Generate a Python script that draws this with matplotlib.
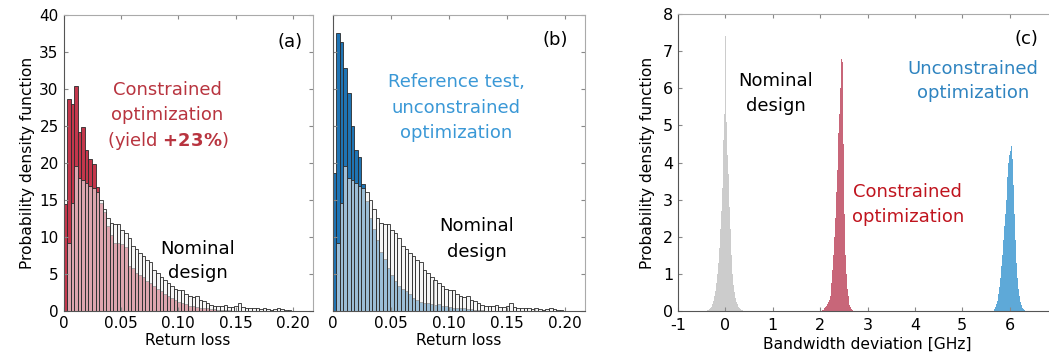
import numpy as np
import matplotlib
matplotlib.use("Agg")
import matplotlib.pyplot as plt

plt.rcParams["axes.unicode_minus"] = False

# return-loss histograms (bin width 0.0031, 70 bins)
rl_edges = np.round(np.arange(71) * 0.0031, 5)
nominal_rl = [0.0, 9.2, 14.6, 19.6, 17.9, 17.7, 17.3, 16.9, 16.6, 16.1,
              15.0, 13.7, 12.5, 11.9, 11.7, 11.7, 10.9, 10.5, 9.9, 8.7,
              8.4, 7.8, 7.4, 6.9, 6.6, 5.5, 5.1, 4.6, 4.2, 3.7,
              3.4, 2.9, 2.8, 2.8, 2.2, 2.0, 1.9, 2.0, 1.5, 1.3,
              1.0, 0.8, 0.7, 0.7, 0.6, 0.8, 0.5, 0.5, 0.6, 1.0,
              0.5, 0.4, 0.3, 0.3, 0.4, 0.2, 0.3, 0.2, 0.1, 0.2,
              0.3, 0.2, 0.1, 0.05, 0.0, 0.0, 0.0, 0.0, 0.0, 0.0]
constrained_rl = [14.5, 28.7, 27.9, 30.4, 24.2, 24.9, 21.8, 20.5, 19.9, 16.8,
                  14.6, 13.4, 11.4, 10.2, 9.2, 9.1, 9.0, 8.6, 6.0, 5.8,
                  5.1, 4.8, 4.5, 4.0, 3.7, 3.3, 3.0, 2.6, 2.3, 2.0,
                  1.7, 1.4, 1.2, 1.1, 0.9, 0.7, 0.6, 0.5, 0.4, 0.3,
                  0.3, 0.2, 0.2, 0.1, 0.1, 0.05, 0.05, 0.0, 0.0, 0.0,
                  0.0, 0.0, 0.0, 0.0, 0.0, 0.0, 0.0, 0.0, 0.0, 0.0,
                  0.0, 0.0, 0.0, 0.0, 0.0, 0.0, 0.0, 0.0, 0.0, 0.0]
unconstrained_rl = [18.6, 37.5, 36.4, 32.8, 29.5, 25.0, 21.8, 20.8, 17.2, 14.8,
                    12.5, 11.0, 9.6, 8.0, 7.0, 5.8, 4.8, 4.0, 3.3, 2.9,
                    2.6, 2.2, 1.7, 1.4, 1.2, 1.0, 1.0, 0.9, 0.8, 0.9,
                    0.7, 0.6, 0.5, 0.4, 0.4, 0.3, 0.3, 0.2, 0.2, 0.1,
                    0.1, 0.1, 0.0, 0.0, 0.0, 0.0, 0.0, 0.0, 0.0, 0.0,
                    0.0, 0.0, 0.0, 0.0, 0.0, 0.0, 0.0, 0.0, 0.0, 0.0,
                    0.0, 0.0, 0.0, 0.0, 0.0, 0.0, 0.0, 0.0, 0.0, 0.0]

# bandwidth deviation histograms (bin width 0.02 GHz)
nom_bw_edges = np.round(-0.40 + np.arange(41) * 0.02, 3)
nominal_bw = [0.01, 0.02, 0.03, 0.05, 0.08, 0.12, 0.18, 0.28, 0.40, 0.55,
              0.75, 1.0, 1.3, 1.7, 2.2, 2.7, 3.3, 4.0, 4.6, 5.3,
              7.4, 5.1, 4.2, 3.7, 2.8, 2.2, 1.5, 1.0, 0.7, 0.5,
              0.35, 0.25, 0.18, 0.12, 0.08, 0.06, 0.04, 0.03, 0.02, 0.01]
con_bw_edges = np.round(2.04 + np.arange(35) * 0.02, 3)
constrained_bw = [0.02, 0.04, 0.07, 0.10, 0.14, 0.18, 0.25, 0.30, 0.40, 0.55,
                  0.75, 1.1, 1.5, 2.0, 2.5, 3.2, 3.8, 4.8, 5.3, 6.0,
                  6.8, 6.7, 4.5, 2.6, 1.5, 1.0, 0.6, 0.4, 0.25, 0.15,
                  0.10, 0.06, 0.03, 0.01]
unc_bw_edges = np.round(5.66 + np.arange(35) * 0.02, 3)
unconstrained_bw = [0.02, 0.05, 0.10, 0.18, 0.28, 0.45, 0.65, 0.90, 1.2, 1.5,
                    1.9, 2.3, 2.6, 3.0, 3.6, 4.0, 4.2, 4.3, 4.45, 4.58,
                    4.1, 3.4, 2.6, 1.9, 1.3, 0.9, 0.6, 0.4, 0.25, 0.15,
                    0.08, 0.05, 0.02, 0.01]

rl_ticks = [0, 0.05, 0.10, 0.15, 0.20]
rl_ticklabels = ["0", "0.05", "0.10", "0.15", "0.20"]

red = "#c4374c"
blue = "#1f74b4"
overlay = (0.94, 0.94, 0.94, 0.6)
edge = "#2a2a2a"


def style_axes(ax, size=11):
    ax.tick_params(direction="in", top=True, right=True, length=3,
                   color="#888888", labelsize=size)
    for s in ["top", "right"]:
        ax.spines[s].set_color("#aaaaaa")
    for s in ["left", "bottom"]:
        ax.spines[s].set_color("#555555")


fig = plt.figure(figsize=(10.49, 3.58), dpi=100)
W, H = 1049, 358

def add_ax(l, r, t, b):
    return fig.add_axes([l / W, 1 - b / H, (r - l) / W, (b - t) / H])

# ---- panel (a)
ax1 = add_ax(63.5, 312.5, 15, 310.7)
ax1.bar(rl_edges[:-1], constrained_rl, width=np.diff(rl_edges), align="edge",
        color=red, edgecolor=edge, linewidth=0.6)
ax1.bar(rl_edges[:-1], nominal_rl, width=np.diff(rl_edges), align="edge",
        facecolor=overlay, edgecolor=edge, linewidth=0.6)
ax1.set_xlim(0, 0.217)
ax1.set_ylim(0, 40)
ax1.set_xticks(rl_ticks)
ax1.set_xticklabels(rl_ticklabels)
ax1.set_yticks(range(0, 41, 5))
ax1.set_xlabel("Return loss", fontsize=11, labelpad=2)
ax1.set_ylabel("Probability density function", fontsize=11.2, labelpad=3)
style_axes(ax1)
ax1.text(0.208, 36.4, "(a)", fontsize=13, ha="right", va="center")
tc = "#b8343f"
ax1.text(0.0905, 29.9, "Constrained", color=tc, fontsize=13, ha="center", va="center")
ax1.text(0.0905, 26.5, "optimization", color=tc, fontsize=13, ha="center", va="center")
ax1.text(0.0905, 22.9, r"(yield $\mathbf{+23\%}$)", color=tc, fontsize=13,
         ha="center", va="center")
ax1.text(0.117, 8.4, "Nominal", fontsize=13, ha="center", va="center")
ax1.text(0.117, 5.1, "design", fontsize=13, ha="center", va="center")

# ---- panel (b)
ax2 = add_ax(332.5, 585, 15, 310.7)
ax2.bar(rl_edges[:-1], unconstrained_rl, width=np.diff(rl_edges), align="edge",
        color=blue, edgecolor=edge, linewidth=0.6)
ax2.bar(rl_edges[:-1], nominal_rl, width=np.diff(rl_edges), align="edge",
        facecolor=overlay, edgecolor=edge, linewidth=0.6)
ax2.set_xlim(0, 0.217)
ax2.set_ylim(0, 40)
ax2.set_xticks(rl_ticks)
ax2.set_xticklabels(rl_ticklabels)
ax2.set_yticks(range(0, 41, 5))
ax2.set_yticklabels([])
ax2.set_xlabel("Return loss", fontsize=11, labelpad=2)
style_axes(ax2)
ax2.text(0.1917, 36.6, "(b)", fontsize=13, ha="center", va="center")
bc = "#3a98d6"
ax2.text(0.1063, 31.0, "Reference test,", color=bc, fontsize=13, ha="center", va="center")
ax2.text(0.1063, 27.4, "unconstrained", color=bc, fontsize=13, ha="center", va="center")
ax2.text(0.1063, 24.0, "optimization", color=bc, fontsize=13, ha="center", va="center")
ax2.text(0.1237, 11.4, "Nominal", fontsize=13, ha="center", va="center")
ax2.text(0.1237, 8.0, "design", fontsize=13, ha="center", va="center")

# ---- panel (c)
ax3 = add_ax(678, 1057, 14, 311)
ax3.stairs(nominal_bw, nom_bw_edges, fill=True, color="#cccccc")
ax3.stairs(constrained_bw, con_bw_edges, fill=True, color="#c86679")
ax3.stairs(unconstrained_bw, unc_bw_edges, fill=True, color="#5ea9d8")
ax3.set_xlim(-1, 7)
ax3.set_ylim(0, 8)
ax3.set_xticks(range(-1, 8))
ax3.set_yticks(range(0, 9))
ax3.set_xlabel("Bandwidth deviation [GHz]", fontsize=11.2, labelpad=3)
ax3.set_ylabel("Probability density function", fontsize=11.2, labelpad=6)
style_axes(ax3, size=11.5)
ax3.tick_params(axis="x", pad=5)
ax3.text(6.36, 7.34, "(c)", fontsize=13, ha="center", va="center")
ax3.text(1.056, 6.2, "Nominal", fontsize=13, ha="center", va="center")
ax3.text(1.056, 5.52, "design", fontsize=13, ha="center", va="center")
cc = "#c0141e"
ax3.text(3.85, 3.2, "Constrained", color=cc, fontsize=13, ha="center", va="center")
ax3.text(3.85, 2.53, "optimization", color=cc, fontsize=13, ha="center", va="center")
uc = "#2f84c0"
ax3.text(5.23, 6.53, "Unconstrained", color=uc, fontsize=13, ha="center", va="center")
ax3.text(5.23, 5.86, "optimization", color=uc, fontsize=13, ha="center", va="center")

fig.savefig("out.png", dpi=100)
